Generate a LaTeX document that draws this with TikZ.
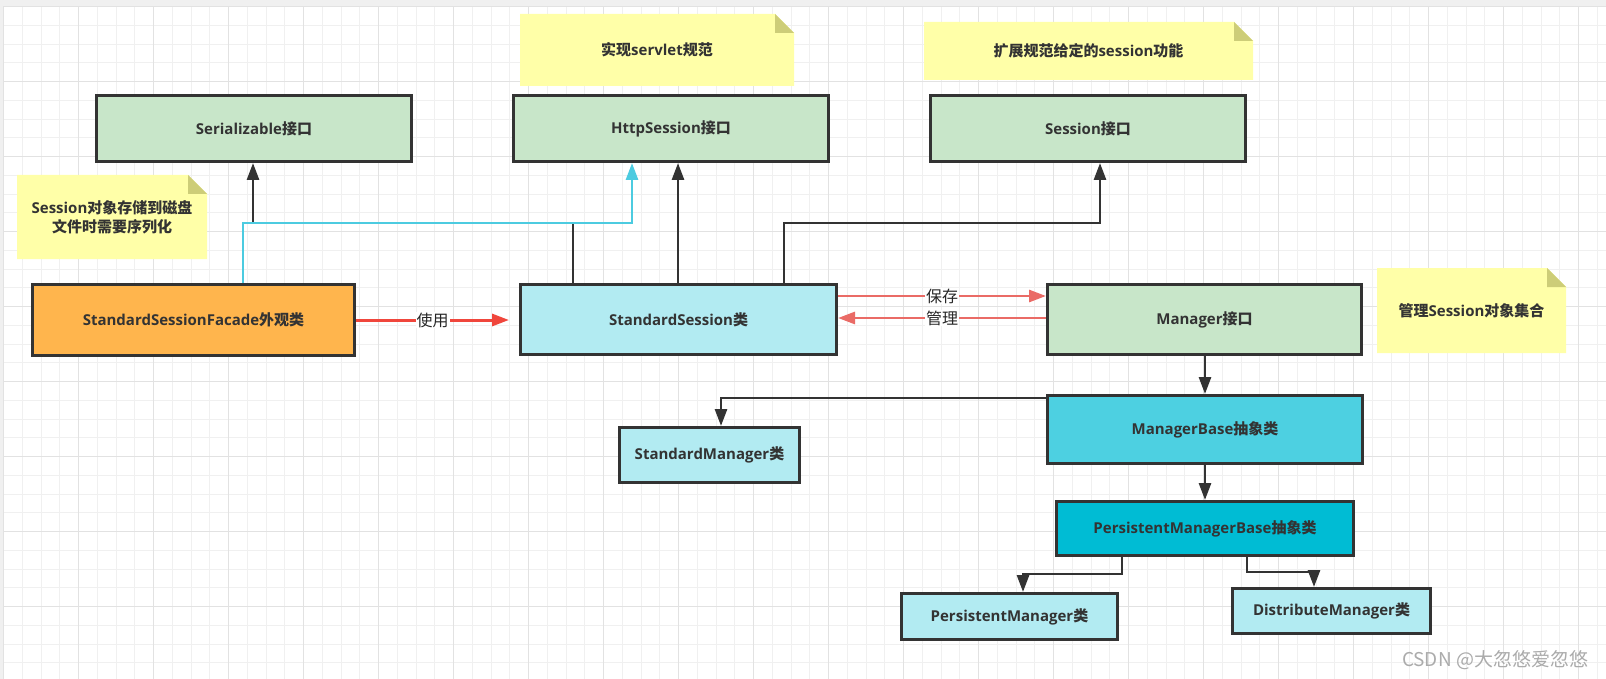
\documentclass[tikz,border=0pt]{standalone}
\usepackage{fontspec}
\setmainfont{Open Sans}
\newfontfamily\cjk{Noto Sans CJK SC}
\usetikzlibrary{arrows.meta}
\definecolor{gridminor}{HTML}{F0F0F0}
\definecolor{gridmajor}{HTML}{E2E2E2}
\definecolor{canvasgray}{HTML}{F0F0F0}
\definecolor{edgecol}{HTML}{333333}
\definecolor{txtcol}{HTML}{333333}
\definecolor{ifgreen}{HTML}{C8E6C9}
\definecolor{facadeorange}{HTML}{FFB54D}
\definecolor{lightcyan}{HTML}{B2EBF2}
\definecolor{midcyan}{HTML}{4DD0E1}
\definecolor{deepcyan}{HTML}{00BCD4}
\definecolor{notefill}{HTML}{FFFFA8}
\definecolor{foldfill}{HTML}{CDCD78}
\definecolor{linkcyan}{HTML}{4CCBE0}
\definecolor{userred}{HTML}{F0463C}
\definecolor{linkpink}{HTML}{EA6B66}
\definecolor{wmgray}{HTML}{ABABAB}
\newcommand\mknote[6]{%
  \fill[notefill] (#2,#3) -- ({#4-19},#3) -- (#4,{#3+19}) -- (#4,#5) -- (#2,#5) -- cycle;
  \fill[foldfill] ({#4-19},#3) -- ({#4-19},{#3+19}) -- (#4,{#3+19}) -- cycle;
  \node[notetext] (#1) at ({(#2+#4)/2},{(#3+#5)/2}) {#6};}
\begin{document}
\begin{tikzpicture}[x=1pt,y=-1pt,
  classbox/.style={draw=edgecol, line width=2.8pt, inner sep=0pt, text=txtcol,
    font=\fontsize{15}{19}\selectfont\bfseries},
  notetext/.style={inner sep=0pt, align=center, text=txtcol,
    font=\cjk\fontsize{15}{19}\selectfont\bfseries},
  conn/.style={draw=edgecol, line width=2.8pt, -{Triangle[length=17pt,width=12pt]}},
  cyanconn/.style={draw=linkcyan, line width=2.8pt, -{Triangle[length=17pt,width=12pt]}},
  redconn/.style={draw=userred, line width=3pt, -{Triangle[length=17pt,width=12pt]}},
  pinkconn/.style={draw=linkpink, line width=2.8pt, -{Triangle[length=17pt,width=12pt]}},
  elabel/.style={fill=white, inner sep=1pt, text=black!85, font=\cjk\fontsize{16}{18}\selectfont},
  gminor/.style={draw=gridminor, line width=1pt},
  gmajor/.style={draw=gridmajor, line width=1.2pt}]
\useasboundingbox (0,0) rectangle (1606,679);
% canvas and grid
\fill[canvasgray] (0,0) rectangle (1606,679);
\fill[white] (3.5,6.5) rectangle (1606,679);
\foreach \i in {0,...,85} {\draw[gminor] ({3.5+18.75*\i},6.5) -- ({3.5+18.75*\i},679);}
\foreach \i in {0,...,35} {\draw[gminor] (3.5,{6.7+18.75*\i}) -- (1606,{6.7+18.75*\i});}
\foreach \i in {0,...,21} {\draw[gmajor] ({3.5+75*\i},6.5) -- ({3.5+75*\i},679);}
\foreach \i in {0,...,8} {\draw[gmajor] (3.5,{6.7+75*\i}) -- (1606,{6.7+75*\i});}
% notes
\mknote{nservlet}{520}{14}{794}{86}{实现{\rmfamily servlet}规范}
\mknote{nsession}{924}{22}{1253}{80}{扩展规范给定的{\rmfamily session}功能}
\mknote{nserial}{17}{175}{207}{259}{{\rmfamily Session}对象存储到磁盘\\文件时需要序列化}
\mknote{nmanager}{1377}{268}{1566}{353}{管理{\rmfamily Session}对象集合}
% boxes
\node[classbox, fill=ifgreen, minimum width=315.2pt, minimum height=66.2pt] (ser) at (254,128.5) {Serializable{\cjk 接口}};
\node[classbox, fill=ifgreen, minimum width=315.2pt, minimum height=66.2pt] (http) at (671,128.5) {HttpSession{\cjk 接口}};
\node[classbox, fill=ifgreen, minimum width=315.2pt, minimum height=66.2pt] (sess) at (1088,128.5) {Session{\cjk 接口}};
\node[classbox, fill=facadeorange, minimum width=322.2pt, minimum height=71.2pt] (facade) at (193.5,320) {StandardSessionFacade{\cjk 外观类}};
\node[classbox, fill=lightcyan, minimum width=316.2pt, minimum height=70.2pt] (ss) at (678.5,319.5) {StandardSession{\cjk 类}};
\node[classbox, fill=ifgreen, minimum width=314.2pt, minimum height=70.2pt] (mgr) at (1204.5,319.5) {Manager{\cjk 接口}};
\node[classbox, fill=midcyan, minimum width=315.2pt, minimum height=68.2pt] (mb) at (1205,429.5) {ManagerBase{\cjk 抽象类}};
\node[classbox, fill=lightcyan, minimum width=180.2pt, minimum height=55.2pt] (sm) at (709.5,455) {StandardManager{\cjk 类}};
\node[classbox, fill=deepcyan, minimum width=297.2pt, minimum height=54.2pt] (pmb) at (1205,528.5) {PersistentManagerBase{\cjk 抽象类}};
\node[classbox, fill=lightcyan, minimum width=216.2pt, minimum height=46.2pt] (pm) at (1009.5,616.5) {PersistentManager{\cjk 类}};
\node[classbox, fill=lightcyan, minimum width=198.2pt, minimum height=45.2pt] (dm) at (1331.5,611) {DistributeManager{\cjk 类}};
% junction coordinates
\coordinate (ka) at (573,223);
\coordinate (kb) at (253,223);
\coordinate (ca) at (243,223);
\coordinate (cb) at (632,223);
\coordinate (kc) at (678,223);
\coordinate (kd) at (784,223);
\coordinate (ke) at (1100,223);
\coordinate (ue) at (509,320);
\coordinate (bc) at (0,296);
\coordinate (gl) at (0,318);
\coordinate (km) at (1205,0);
\coordinate (ks) at (721,398);
\coordinate (p1) at (1122,574);
\coordinate (p2) at (1023,574);
\coordinate (q1) at (1247,572);
\coordinate (q2) at (1314,572);
% connectors
\draw[conn] (ka |- ss.north) -- (ka) -- (kb) -- (kb |- ser.south);
\draw[cyanconn] (ca |- facade.north) -- (ca) -- (cb) -- (cb |- http.south);
\draw[conn] (kc |- ss.north) -- (kc |- http.south);
\draw[conn] (kd |- ss.north) -- (kd) -- (ke) -- (ke |- sess.south);
\draw[redconn] (facade.east |- ue) -- node[elabel] {使用} (ue);
\draw[pinkconn] (ss.east |- bc) -- node[elabel] {保存} (mgr.west |- bc);
\draw[pinkconn] (mgr.west |- gl) -- node[elabel] {管理} (ss.east |- gl);
\draw[conn] (km |- mgr.south) -- (km |- mb.north);
\draw[conn] (km |- mb.south) -- (km |- pmb.north);
\draw[conn] (mb.west |- ks) -- (ks) -- (ks |- sm.north);
\draw[conn] (p1 |- pmb.south) -- (p1) -- (p2) -- (p2 |- pm.north);
\draw[conn] (q1 |- pmb.south) -- (q1) -- (q2) -- (q2 |- dm.north);
% watermark
\node[inner sep=0pt, text=wmgray, font=\cjk\fontsize{19}{22}\selectfont] (wm) at (1495,660) {CSDN @大忽悠爱忽悠};
\end{tikzpicture}
\end{document}
